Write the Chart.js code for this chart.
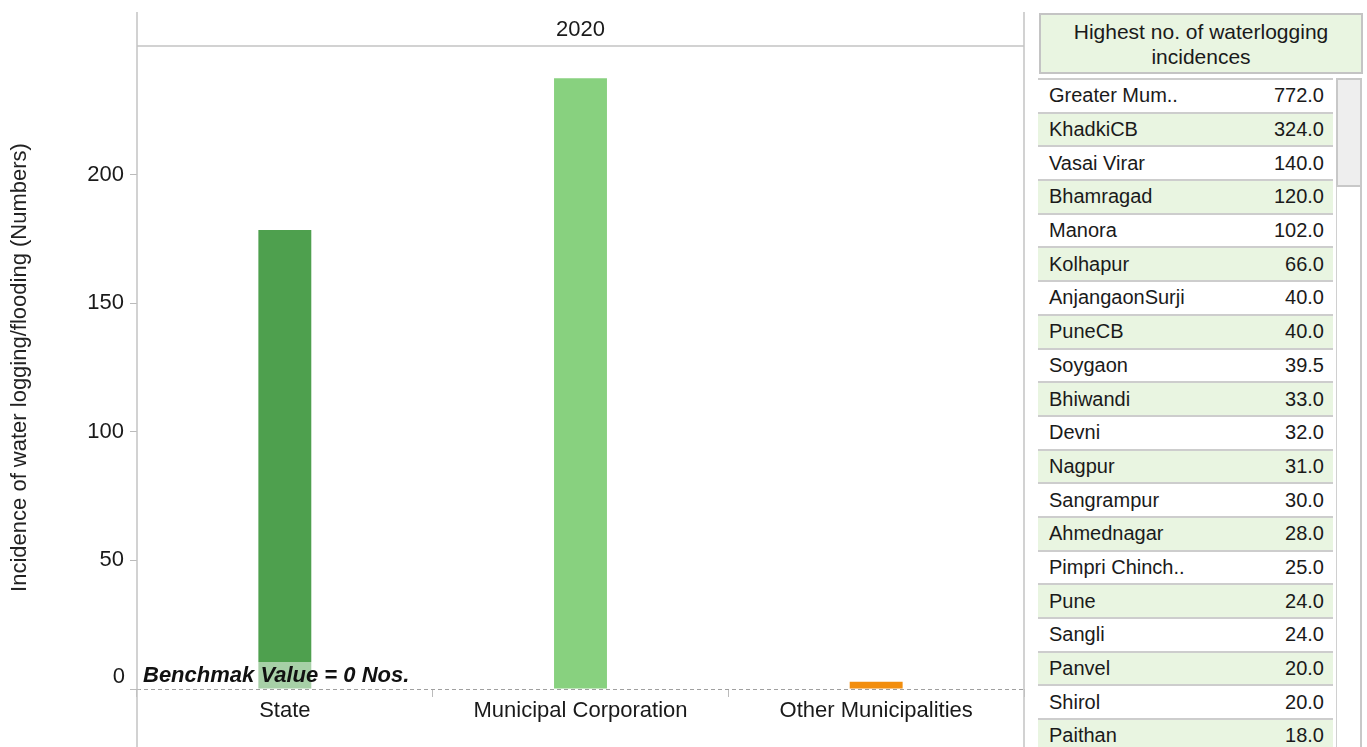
<!DOCTYPE html>
<html><head><meta charset="utf-8">
<script src="https://cdn.jsdelivr.net/npm/chart.js@4/dist/chart.umd.min.js"></script>
<style>
html,body{margin:0;padding:0;background:#fff;}
body{width:1367px;height:747px;overflow:hidden;position:relative;font-family:"Liberation Sans",Arial,sans-serif;color:#1a1a1a;}
#wrap{position:absolute;left:0;top:0;width:1030px;height:747px;}
#hdr{position:absolute;left:1039px;top:13px;width:324px;height:61px;box-sizing:border-box;border:2px solid #c4c4c4;background:#E9F5E1;display:flex;align-items:center;justify-content:center;text-align:center;font-size:21px;line-height:25px;}
#rows{position:absolute;left:1038px;top:78px;width:295px;}
.row{box-sizing:border-box;height:33.7px;border-top:2px solid #cdcdcd;display:flex;align-items:center;justify-content:space-between;font-size:20px;padding:0 9px 0 11px;}
.row.alt{background:#E9F5E1;}
#track{position:absolute;left:1336px;top:78px;width:26px;height:669px;box-sizing:border-box;border-left:1px solid #d0d0d0;border-right:2px solid #c8c8c8;}
#thumb{position:absolute;left:1336px;top:78px;width:26px;height:109px;box-sizing:border-box;border:2px solid #c8c8c8;background:#eeeeee;}
</style></head>
<body>
<div id="wrap"><canvas id="c" width="1030" height="747"></canvas></div>
<div id="hdr">Highest no. of waterlogging<br>incidences</div>
<div id="rows"></div>
<div id="track"></div><div id="thumb"></div>
<script>
const categories = ['State', 'Municipal Corporation', 'Other Municipalities'];
const values = [178.5, 237.5, 2.8];
const barColors = ['#4EA04E', '#88D17F', '#F28E0E'];
const yTicks = [0, 50, 100, 150, 200];
const yMax = 250;
const facetLabel = '2020';
const yTitle = 'Incidence of water logging/flooding (Numbers)';
const benchmarkValue = 0;
const benchmarkLabel = 'Benchmak Value = 0 Nos.';
const tableTitle = 'Highest no. of waterlogging incidences';
const tableNames = ['Greater Mum..', 'KhadkiCB', 'Vasai Virar', 'Bhamragad', 'Manora', 'Kolhapur', 'AnjangaonSurji', 'PuneCB', 'Soygaon', 'Bhiwandi', 'Devni', 'Nagpur', 'Sangrampur', 'Ahmednagar', 'Pimpri Chinch..', 'Pune', 'Sangli', 'Panvel', 'Shirol', 'Paithan'];
const tableValues = [772.0, 324.0, 140.0, 120.0, 102.0, 66.0, 40.0, 40.0, 39.5, 33.0, 32.0, 31.0, 30.0, 28.0, 25.0, 24.0, 24.0, 20.0, 20.0, 18.0];

// table
const rowsEl = document.getElementById('rows');
tableNames.forEach((n, i) => {
  const r = document.createElement('div');
  r.className = 'row' + (i % 2 ? ' alt' : '');
  const a = document.createElement('span'); a.textContent = n;
  const b = document.createElement('span'); b.textContent = tableValues[i].toFixed(1);
  r.appendChild(a); r.appendChild(b);
  rowsEl.appendChild(r);
});

const FAM = '"Liberation Sans", Arial, sans-serif';
const FS = 22;
const decor = {
  id: 'decor',
  afterDatasetsDraw(chart) {
    const ctx = chart.ctx, ca = chart.chartArea;
    const ys = chart.scales.y;
    const y0 = ys.getPixelForValue(benchmarkValue);
    ctx.save();
    // benchmark label with translucent background
    ctx.font = 'italic bold ' + FS + 'px ' + FAM;
    const tw = ctx.measureText(benchmarkLabel).width;
    ctx.fillStyle = 'rgba(255,255,255,0.5)';
    ctx.fillRect(ca.left + 4, y0 - 27, tw + 8, 27);
    ctx.fillStyle = '#111';
    ctx.textBaseline = 'middle';
    ctx.textAlign = 'left';
    ctx.fillText(benchmarkLabel, ca.left + 6, y0 - 13);
    // dashed benchmark line
    ctx.strokeStyle = '#a0a0a0';
    ctx.lineWidth = 1;
    ctx.setLineDash([4, 3]);
    ctx.beginPath(); ctx.moveTo(ca.left, y0 + 0.5); ctx.lineTo(ca.right, y0 + 0.5); ctx.stroke();
    ctx.setLineDash([]);
    // frame lines
    ctx.strokeStyle = '#c4c4c4';
    ctx.lineWidth = 1.5;
    ctx.beginPath();
    ctx.moveTo(ca.left, 12); ctx.lineTo(ca.left, 747);
    ctx.moveTo(ca.right, 12); ctx.lineTo(ca.right, 747);
    ctx.moveTo(ca.left, ca.top); ctx.lineTo(ca.right, ca.top);
    ctx.stroke();
    // zero tick crossing the axis
    ctx.strokeStyle = '#bbbbbb'; ctx.lineWidth = 1;
    ctx.beginPath(); ctx.moveTo(ca.left - 7, y0 + 0.5); ctx.lineTo(ca.left + 3, y0 + 0.5); ctx.stroke();
    // bottom tick label (kept inside the pane, as in the reference)
    ctx.fillStyle = '#1a1a1a';
    ctx.font = FS + 'px ' + FAM;
    ctx.textAlign = 'right';
    ctx.fillText(String(yTicks[0]), ca.left - 12, y0 - 12);
    // facet header
    ctx.textAlign = 'center';
    ctx.fillText(facetLabel, (ca.left + ca.right) / 2, 30);
    // y title
    ctx.translate(20, (ca.top + ca.bottom) / 2);
    ctx.rotate(-Math.PI / 2);
    ctx.fillStyle = '#222';
    ctx.fillText(yTitle, 0, 0);
    ctx.restore();
  }
};

new Chart(document.getElementById('c'), {
  type: 'bar',
  data: {
    labels: categories,
    datasets: [{ data: values, backgroundColor: barColors, barPercentage: 0.179, categoryPercentage: 1 }]
  },
  options: {
    responsive: false,
    animation: false,
    layout: { padding: { top: 46, right: 6, left: 0, bottom: 0 } },
    plugins: { legend: { display: false }, tooltip: { enabled: false } },
    scales: {
      x: {
        grid: { offset: true, drawOnChartArea: false, tickLength: 8, color: '#bbbbbb' },
        border: { display: false },
        ticks: { font: { size: FS, family: FAM }, color: '#1a1a1a', padding: 1, maxRotation: 0 },
        afterFit(s) { s.height = 58; }
      },
      y: {
        min: 0, max: yMax,
        afterBuildTicks(s) { s.ticks = yTicks.map(v => ({ value: v })); },
        grid: { drawOnChartArea: false, tickLength: 7, color: '#bbbbbb' },
        border: { display: false },
        ticks: { font: { size: FS, family: FAM }, color: '#1a1a1a', padding: 6,
                 callback: (v) => (v === yTicks[0] ? '' : String(v)) },
        afterFit(s) { s.width = 137; }
      }
    }
  },
  plugins: [decor]
});
</script>
</body></html>
